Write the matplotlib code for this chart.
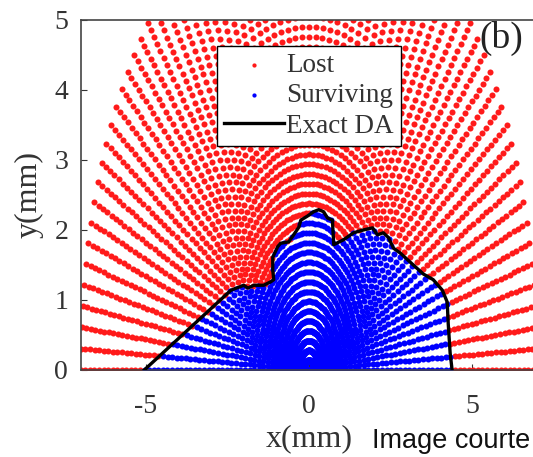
import numpy as np
import matplotlib
matplotlib.use('Agg')
import matplotlib.pyplot as plt
from matplotlib.path import Path

# Tracking grid (polar): ray angles and radii of the initial conditions
ray_angles_deg = np.arange(0, 180.1, 2.5)
radii_mm = np.arange(0, 7.01, 0.14)

# Exact dynamic aperture boundary (mm)
da_x = [-5.05, -2.39, -2.00, -1.87, -1.69, -1.39, -1.17, -1.08, -1.11, -1.11,
        -0.96, -0.87, -0.62, -0.47, -0.31, -0.25, -0.04, 0.14, 0.30, 0.45,
        0.57, 0.72, 0.76, 1.06, 1.37, 1.67, 1.95, 2.10, 2.28, 2.44,
        2.59, 2.80, 3.20, 3.51, 3.81, 4.09, 4.24, 4.27, 4.33, 4.39]
da_y = [0.00, 1.14, 1.21, 1.17, 1.21, 1.21, 1.26, 1.29, 1.43, 1.61,
        1.76, 1.81, 1.83, 1.93, 2.04, 2.14, 2.20, 2.26, 2.29, 2.26,
        2.17, 2.14, 1.79, 1.86, 1.96, 2.00, 2.03, 1.93, 1.96, 1.89,
        1.74, 1.67, 1.50, 1.37, 1.29, 1.14, 0.97, 0.67, 0.24, 0.00]

# Build the grid of starting points
theta = np.deg2rad(ray_angles_deg)
R, T = np.meshgrid(radii_mm, theta)
px = (R * np.cos(T)).ravel()
py = (R * np.sin(T)).ravel()

# Surviving = inside the DA boundary (closed a little below y=0)
poly = list(zip(da_x, da_y)) + [(da_x[-1], -0.1), (da_x[0], -0.1)]
inside = Path(poly).contains_points(np.column_stack([px, py]))

plt.rcParams['font.family'] = ['Liberation Serif', 'DejaVu Serif']
plt.rcParams['axes.unicode_minus'] = False

fig = plt.figure(figsize=(5.33, 4.57), dpi=100)
ax = fig.add_axes([0.1514, 0.1904, 0.8565, 0.766])

ax.scatter(px[~inside], py[~inside], s=19, color='#ff1a1a', linewidths=0,
           label='Lost', zorder=2)
ax.scatter(px[inside], py[inside], s=19, color='#0000ff', linewidths=0,
           label='Surviving', zorder=2)
ax.plot(da_x, da_y, color='black', linewidth=2.4, label='Exact DA', zorder=3)

ax.set_xlim(-7, 7)
ax.set_ylim(0, 5)
ax.set_xticks([-5, 0, 5])
ax.set_yticks([0, 1, 2, 3, 4, 5])
ax.tick_params(direction='in', labelsize=20, colors='#333333', length=4,
               labelcolor='#333333')
ax.tick_params(axis='x', pad=17)
ax.tick_params(axis='y', pad=9)
for sp in ax.spines.values():
    sp.set_color('#444444')
    sp.set_linewidth(1.2)

ax.set_xlabel('x(mm)', fontsize=23, color='#333333', labelpad=4)
ax.set_ylabel('y(mm)', fontsize=23, color='#333333', labelpad=8)

leg = ax.legend(loc='upper left', bbox_to_anchor=(0.299, 0.925), fontsize=19.5,
                frameon=True, fancybox=False, edgecolor='black', framealpha=1,
                handlelength=2.2, handletextpad=0.1, labelspacing=0.2,
                borderpad=0.25, borderaxespad=0, markerscale=0.7)
leg.get_frame().set_linewidth(1.0)
for t in leg.get_texts():
    t.set_color('#333333')

fig.text(0.981, 0.955, '(b)', fontsize=27, ha='right', va='top',
         color='#222222')

fig.text(0.698, 0.02, 'Image courte', fontsize=19.5, family='Liberation Sans',
         color='#111111', ha='left', va='baseline')

fig.savefig('out.png', dpi=100, facecolor='white')
